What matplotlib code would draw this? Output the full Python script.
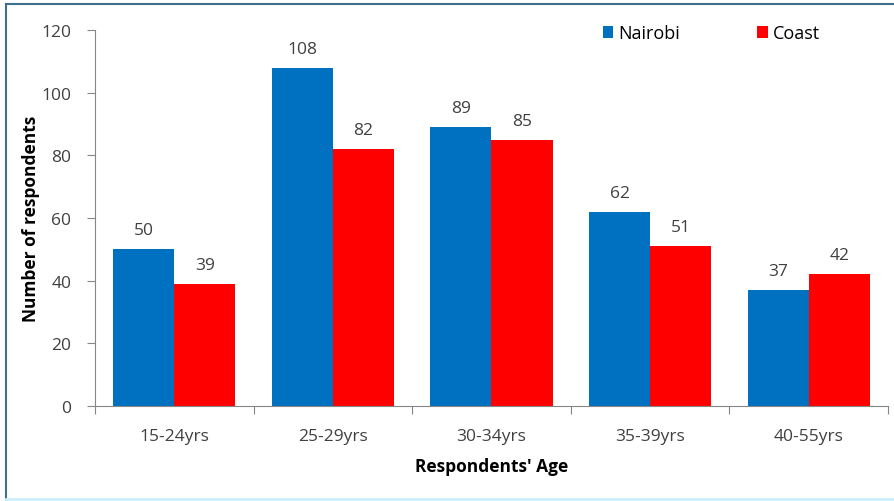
import matplotlib.pyplot as plt
import numpy as np
from matplotlib.lines import Line2D

# data
age_groups = ['15-24yrs', '25-29yrs', '30-34yrs', '35-39yrs', '40-55yrs']
nairobi = [50, 108, 89, 62, 37]
coast = [39, 82, 85, 51, 42]

plt.rcParams['font.family'] = ['Open Sans', 'DejaVu Sans']

fig = plt.figure(figsize=(8.95, 5.02), dpi=100)
ax = fig.add_axes([0.1061, 0.1892, 0.8861, 0.749])

x = np.arange(len(age_groups))
w = 0.385
b1 = ax.bar(x - w / 2, nairobi, w, color='#0070C0', label='Nairobi')
b2 = ax.bar(x + w / 2, coast, w, color='#FF0000', label='Coast')

# value labels above bars
for bars, vals in [(b1, nairobi), (b2, coast)]:
    for rect, v in zip(bars, vals):
        ax.annotate(str(v), (rect.get_x() + rect.get_width() / 2, v),
                    xytext=(0, 8), textcoords='offset points',
                    ha='center', va='bottom', fontsize=12.5, color='#404040')

ax.set_xlim(-0.5, len(age_groups) - 0.5)
ax.set_ylim(0, 120)
ax.set_yticks(range(0, 121, 20))
ax.set_xticks(np.arange(len(age_groups) + 1) - 0.5)
ax.set_xticklabels([])
ax.set_xticks(x, minor=True)
ax.set_xticklabels(age_groups, minor=True)
ax.tick_params(axis='x', which='minor', length=0, pad=16, labelsize=12.5, labelcolor='#404040')
ax.tick_params(axis='x', which='major', length=6, color='#868686', direction='out')
ax.tick_params(axis='y', length=6, color='#868686', labelsize=12.5, labelcolor='#404040', pad=11)

for side in ['top', 'right']:
    ax.spines[side].set_visible(False)
for side in ['left', 'bottom']:
    ax.spines[side].set_color('#868686')

ax.set_xlabel("Respondents' Age", fontsize=12.5, fontweight='bold', labelpad=9)
ax.set_ylabel('Number of respondents', fontsize=12.5, fontweight='bold', labelpad=1)

ax.legend(loc='upper left', bbox_to_anchor=(0.64, 1.015), ncol=2, frameon=False,
          borderpad=0, borderaxespad=0,
          handlelength=0.6, handleheight=0.6, handletextpad=0.25,
          columnspacing=4.3, fontsize=13)

# outer frame like the screenshot
fig.add_artist(Line2D([6 / 895, 1], [1 - 5 / 502, 1 - 5 / 502], color='#3d6f8e', lw=1.5))
fig.add_artist(Line2D([6 / 895, 6 / 895], [2 / 502, 1 - 5 / 502], color='#3d6f8e', lw=1.5))
fig.add_artist(Line2D([6 / 895, 1], [2 / 502, 2 / 502], color='#cdeefc', lw=2))

fig.savefig('out.png', dpi=100)
